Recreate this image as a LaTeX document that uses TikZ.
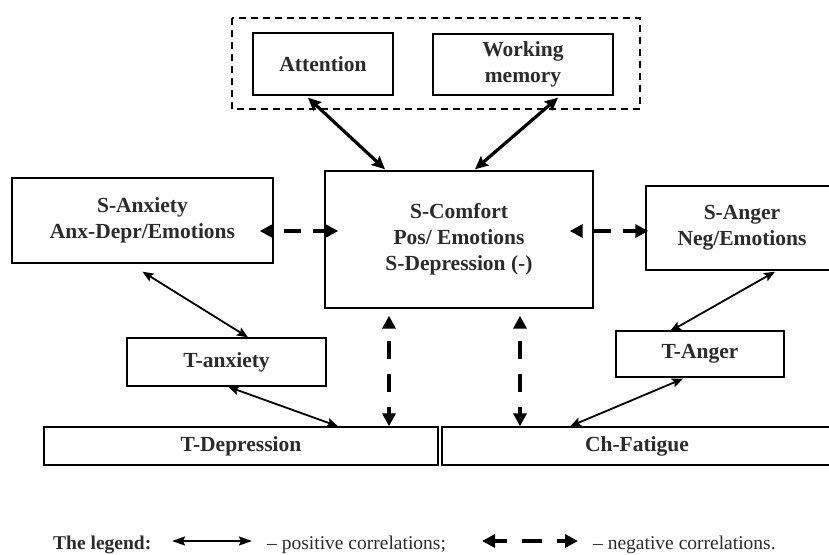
\documentclass[tikz,border=0pt]{standalone}
\usepackage{fontspec}
\setmainfont{Liberation Serif}
\usetikzlibrary{arrows.meta}
\definecolor{Ink}{HTML}{2B2B2B}

\tikzset{
  factor/.style={draw, line width=1.4pt, align=center, text=Ink, inner sep=0pt,
    font=\bfseries\fontsize{21.5}{26}\selectfont},
  legtext/.style={anchor=base west, inner sep=0pt, text=Ink,
    font=\fontsize{19.5}{24}\selectfont},
  poslink/.style={line width=1.8pt,
    {Stealth[length=11pt,width=9pt,inset=2pt]}-{Stealth[length=11pt,width=9pt,inset=2pt]}},
  poslinkbold/.style={line width=3.2pt,
    {Stealth[length=13pt,width=12pt,inset=2pt]}-{Stealth[length=13pt,width=12pt,inset=2pt]}},
  neglink/.style={line width=4pt,
    {Triangle[length=13pt,width=13pt]}-{Triangle[length=13pt,width=13pt]}}
}

\begin{document}
\begin{tikzpicture}[x=1pt, y=-1pt]
  \clip (0,0) rectangle (829,554);

  % cognitive block
  \draw[line width=1.3pt, dash pattern=on 7pt off 5pt] (232,18) rectangle (640,109);
  \node[factor, minimum width=140pt, minimum height=62pt] (att) at (323,64) {Attention};
  \node[factor, minimum width=180pt, minimum height=61pt] (wm) at (523,64.5) {Working\\memory};

  % state level
  \node[factor, minimum width=261pt, minimum height=85pt] (sanx) at (142.5,220.5)
    {S-Anxiety\\Anx-Depr/Emotions};
  \node[factor, minimum width=268pt, minimum height=137pt] (comf) at (459,239.5)
    {S-Comfort\\Pos/ Emotions\\S-Depression (-)};
  \node[factor, minimum width=192pt, minimum height=84pt] (sang) at (742,228)
    {S-Anger\\Neg/Emotions};

  % trait level
  \node[factor, minimum width=199pt, minimum height=48pt] (tanx) at (226.5,362) {T-anxiety};
  \node[factor, minimum width=168pt, minimum height=46pt] (tang) at (700,354) {T-Anger};
  \node[factor, minimum width=394pt, minimum height=38pt] (tdep) at (241,446) {T-Depression};
  \node[factor, minimum width=390pt, minimum height=38pt] (chf) at (637,446) {Ch-Fatigue};

  % positive links
  \draw[poslinkbold] ([xshift=-15pt,yshift=-2pt]att.south) -- ([xshift=-74pt,yshift=1pt]comf.north);
  \draw[poslinkbold] ([xshift=35pt,yshift=-2pt]wm.south) -- ([xshift=16pt,yshift=1pt]comf.north);
  \draw[poslink] ([yshift=-8pt]sanx.south) -- ([xshift=21.5pt]tanx.north);
  \draw[poslink] ([xshift=1.5pt]tanx.south) -- ([xshift=97pt]tdep.north);
  \draw[poslink] ([xshift=33pt,yshift=-1pt]sang.south) -- ([xshift=-30pt,yshift=-1pt]tang.north);
  \draw[poslink] ([xshift=-17pt,yshift=-1pt]tang.south) -- ([xshift=-67pt]chf.north);

  % negative links
  \draw[neglink, dash pattern=on 17pt off 12pt, dash phase=17pt]
    ([xshift=-14pt,yshift=-10.5pt]sanx.east) -- ([xshift=14pt,yshift=8.5pt]comf.west);
  \draw[neglink, dash pattern=on 17pt off 12pt, dash phase=17pt]
    ([xshift=-24pt,yshift=8.5pt]comf.east) -- ([xshift=3pt,yshift=-3pt]sang.west);
  \draw[neglink, dash pattern=on 18pt off 15pt, dash phase=20pt]
    ([xshift=-70pt,yshift=-7pt]comf.south) -- ([xshift=148pt]tdep.north);
  \draw[neglink, dash pattern=on 18pt off 15pt, dash phase=20pt]
    ([xshift=61pt,yshift=-7pt]comf.south) -- ([xshift=-117pt]chf.north);

  % legend
  \node[legtext, font=\bfseries\fontsize{19.5}{24}\selectfont] (legtitle) at (53,549) {The legend:};
  \coordinate (posa) at (172,541);
  \coordinate (posb) at (252,541);
  \draw[line width=2pt, {Stealth[length=13pt,width=9pt,inset=2pt]}-{Stealth[length=13pt,width=9pt,inset=2pt]}]
    (posa) -- (posb);
  \node[legtext] (legpos) at (267,549) {– positive correlations;};
  \coordinate (nega) at (482,541);
  \coordinate (negb) at (578,541);
  \draw[neglink, dash pattern=on 13pt off 15pt on 20pt off 15pt on 20pt] (nega) -- (negb);
  \node[legtext] (legneg) at (593,549) {– negative correlations.};
\end{tikzpicture}
\end{document}
